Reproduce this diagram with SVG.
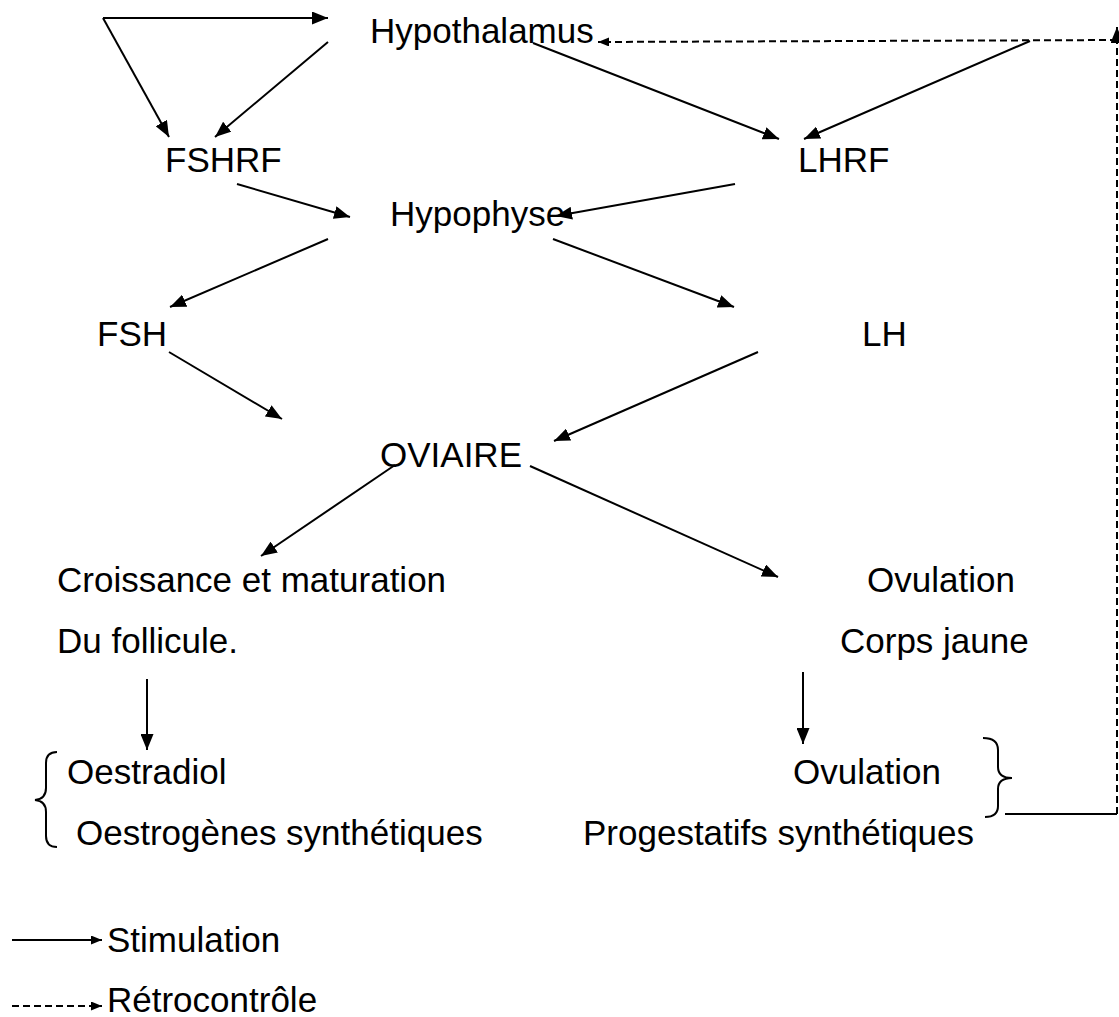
<svg xmlns="http://www.w3.org/2000/svg" width="1119" height="1017" viewBox="0 0 1119 1017">
<defs>
<style>
text{font-family:"Liberation Sans",Arial,sans-serif;font-size:35px;fill:#000}
.c{stroke:#000;stroke-width:2;fill:none}
.d{stroke:#000;stroke-width:2;fill:none;stroke-dasharray:7,4}
</style>
<marker id="a" viewBox="0 0 16 13" refX="16" refY="6.5" markerWidth="16" markerHeight="13" markerUnits="userSpaceOnUse" orient="auto"><path d="M0,0L16,6.5L0,13z" fill="#000"/></marker>
<marker id="s" viewBox="0 0 11 9" refX="11" refY="4.5" markerWidth="11" markerHeight="9" markerUnits="userSpaceOnUse" orient="auto"><path d="M0,0L11,4.5L0,9z" fill="#000"/></marker>
</defs>
<rect width="1119" height="1017" fill="#fff"/>
<g id="connectors">
<line class="c" x1="103" y1="18" x2="328" y2="18" marker-end="url(#a)"/>
<line class="c" x1="103" y1="18" x2="169" y2="137" marker-end="url(#a)"/>
<line class="c" x1="328" y1="42" x2="215" y2="137" marker-end="url(#a)"/>
<line class="c" x1="533" y1="43" x2="779" y2="139" marker-end="url(#a)"/>
<line class="c" x1="1030" y1="41" x2="804" y2="139" marker-end="url(#a)"/>
<line class="d" x1="1117" y1="40" x2="598" y2="42" marker-end="url(#s)"/>
<line class="c" x1="237" y1="184" x2="350" y2="217" marker-end="url(#a)"/>
<line class="c" x1="735" y1="184" x2="556" y2="216" marker-end="url(#a)"/>
<line class="c" x1="328" y1="239" x2="170" y2="307" marker-end="url(#a)"/>
<line class="c" x1="553" y1="239" x2="734" y2="307" marker-end="url(#a)"/>
<line class="c" x1="169" y1="352" x2="282" y2="419" marker-end="url(#a)"/>
<line class="c" x1="758" y1="352" x2="554" y2="441" marker-end="url(#a)"/>
<line class="c" x1="395" y1="465" x2="261" y2="556" marker-end="url(#a)"/>
<line class="c" x1="530" y1="466" x2="778" y2="577" marker-end="url(#a)"/>
<line class="c" x1="147" y1="679" x2="147" y2="750" marker-end="url(#a)"/>
<line class="c" x1="803" y1="672" x2="803" y2="744" marker-end="url(#a)"/>
<path class="c" d="M57,752 Q46,752 46,763 L46,788 Q46,799 35,800 Q46,801 46,812 L46,836 Q46,847 57,847"/>
<path class="c" d="M983,738 Q998,738 998,750 L998,767 Q998,778 1012,778 Q998,778 998,789 L998,806 Q998,817 985,817"/>
<line class="c" x1="1005" y1="814" x2="1117" y2="814"/>
<line class="d" x1="1117" y1="814" x2="1117" y2="27" marker-end="url(#a)"/>
<line class="c" x1="12" y1="940" x2="102" y2="940" marker-end="url(#s)"/>
<line class="d" x1="12" y1="1006" x2="102" y2="1006" stroke-dasharray="5,4" marker-end="url(#s)"/>
</g>
<g id="hypothalamus"><text x="370" y="43">Hypothalamus</text></g>
<g id="fshrf"><text x="165" y="172">FSHRF</text></g>
<g id="lhrf"><text x="798" y="172">LHRF</text></g>
<g id="hypophyse"><text x="390" y="226">Hypophyse</text></g>
<g id="fsh"><text x="97" y="346">FSH</text></g>
<g id="lh"><text x="862" y="346">LH</text></g>
<g id="oviaire"><text x="380" y="467">OVIAIRE</text></g>
<g id="croissance"><text x="57" y="592">Croissance et maturation</text><text x="57" y="653">Du follicule.</text></g>
<g id="ovulation"><text x="867" y="592">Ovulation</text><text x="840" y="653">Corps jaune</text></g>
<g id="oestrogenes"><text x="67" y="784">Oestradiol</text><text x="76" y="845">Oestrogènes synthétiques</text></g>
<g id="progestatifs"><text x="793" y="784">Ovulation</text><text x="583" y="845">Progestatifs synthétiques</text></g>
<g id="legend"><text x="107" y="952">Stimulation</text><text x="107" y="1012">Rétrocontrôle</text></g>
</svg>
